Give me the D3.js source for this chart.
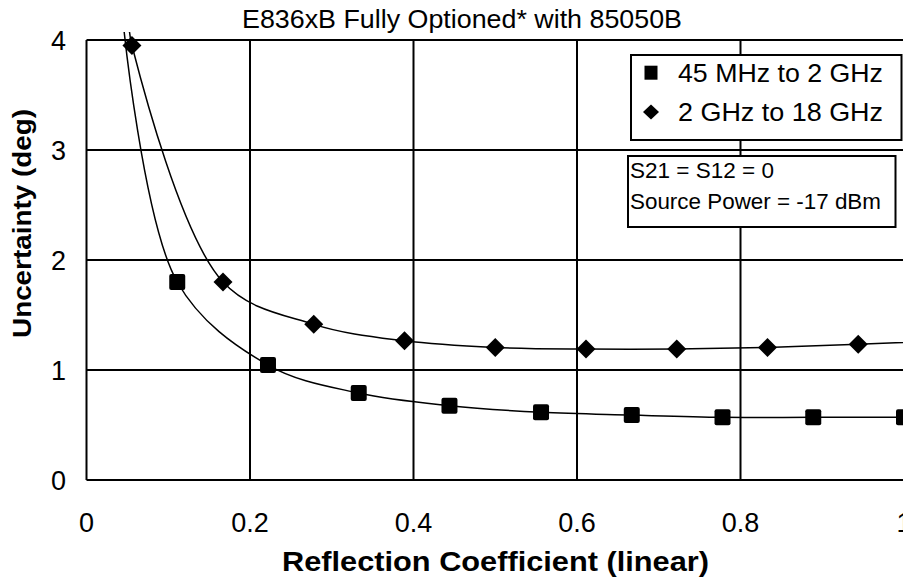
<!DOCTYPE html>
<html>
<head>
<meta charset="utf-8">
<script src="https://cdn.jsdelivr.net/npm/d3@7"></script>
<style>
  html, body { margin: 0; padding: 0; background: #fff; }
  svg { display: block; }
  text { font-family: "Liberation Sans", Arial, sans-serif; fill: #000; }
</style>
</head>
<body>
<svg id="chart" width="903" height="581"></svg>
<script>
// ---- data ----
const chartTitle = "E836xB Fully Optioned* with 85050B";
const xTitle = "Reflection Coefficient (linear)";
const yTitle = "Uncertainty (deg)";
const xTicks = [0, 0.2, 0.4, 0.6, 0.8, 1];
const yTicks = [0, 1, 2, 3, 4];
const seriesNames = ["45 MHz to 2 GHz", "2 GHz to 18 GHz"];
const noteLines = ["S21 = S12 = 0", "Source Power = -17 dBm"];

// 45 MHz to 2 GHz (squares); first point lies above the axis maximum
const squareX = [0.045, 0.111, 0.222, 0.333, 0.444, 0.556, 0.667, 0.778, 0.889, 1.0];
const squareY = [4.15, 1.80, 1.045, 0.79, 0.675, 0.615, 0.59, 0.57, 0.57, 0.57];
// 2 GHz to 18 GHz (diamonds); first and last points lie outside the axis range
const diamondX = [0.052, 0.0556, 0.167, 0.278, 0.389, 0.5, 0.611, 0.722, 0.833, 0.944, 1.056];
const diamondY = [4.15, 3.95, 1.80, 1.415, 1.265, 1.205, 1.19, 1.19, 1.205, 1.235, 1.265];

(function () {
// ---- layout ----
const svg = d3.select("#chart");
const pLeft = 86.5, pRight = 904, pTop = 40, pBottom = 480;
const x = d3.scaleLinear().domain([0, 1]).range([pLeft, pRight]);
const y = d3.scaleLinear().domain([0, 4]).range([pBottom, pTop]);

// gridlines and frame
const grid = svg.append("g").attr("stroke", "#000").attr("stroke-width", 2);
grid.selectAll("line.v").data(xTicks).enter().append("line")
  .attr("x1", d => x(d)).attr("x2", d => x(d))
  .attr("y1", pTop).attr("y2", pBottom);
grid.selectAll("line.h").data(yTicks).enter().append("line")
  .attr("x1", pLeft).attr("x2", pRight)
  .attr("y1", d => y(d)).attr("y2", d => y(d));

// tick labels
svg.append("g").selectAll("text").data(xTicks).enter().append("text")
  .attr("x", d => x(d)).attr("y", 532)
  .attr("text-anchor", "middle").attr("font-size", 27)
  .text(d => d3.format("~g")(d));
svg.append("g").selectAll("text").data(yTicks).enter().append("text")
  .attr("x", 66).attr("y", d => y(d) + 10)
  .attr("text-anchor", "end").attr("font-size", 27)
  .text(d => d);

// titles
svg.append("text").attr("x", 462).attr("y", 28)
  .attr("text-anchor", "middle").attr("font-size", 25)
  .attr("textLength", 440).attr("lengthAdjust", "spacingAndGlyphs")
  .text(chartTitle);
svg.append("text").attr("x", 495.5).attr("y", 571)
  .attr("text-anchor", "middle").attr("font-size", 28).attr("font-weight", "bold")
  .attr("textLength", 427).attr("lengthAdjust", "spacingAndGlyphs")
  .text(xTitle);
svg.append("text").attr("transform", "translate(31,223.5) rotate(-90)")
  .attr("text-anchor", "middle").attr("font-size", 26).attr("font-weight", "bold")
  .attr("textLength", 229).attr("lengthAdjust", "spacingAndGlyphs")
  .text(yTitle);

// clip for series
svg.append("clipPath").attr("id", "plotclip").append("rect")
  .attr("x", pLeft).attr("y", pTop - 8).attr("width", pRight - pLeft).attr("height", pBottom - pTop + 8);

const line = d3.line().x(d => x(d[0])).y(d => y(d[1])).curve(d3.curveCatmullRom.alpha(0.5));
const sq = d3.zip(squareX, squareY);
const di = d3.zip(diamondX, diamondY);

const series = svg.append("g").attr("clip-path", "url(#plotclip)");
series.append("path").datum(sq).attr("d", line)
  .attr("fill", "none").attr("stroke", "#000").attr("stroke-width", 1.5);
series.append("path").datum(di).attr("d", line)
  .attr("fill", "none").attr("stroke", "#000").attr("stroke-width", 1.5);

const diamondPath = (w, h) => `M0,${-h/2}L${w/2},0L0,${h/2}L${-w/2},0Z`;
const inRange = d => d[1] <= 4 && d[0] <= 1;

svg.append("g").selectAll("rect").data(sq.filter(inRange)).enter().append("rect")
  .attr("x", d => x(d[0]) - 8).attr("y", d => y(d[1]) - 8)
  .attr("width", 16).attr("height", 16).attr("rx", 2).attr("fill", "#000");
svg.append("g").selectAll("path").data(di.filter(inRange)).enter().append("path")
  .attr("transform", d => `translate(${x(d[0])},${y(d[1])})`)
  .attr("d", diamondPath(19, 19)).attr("fill", "#000");

// legend
const lg = svg.append("g");
lg.append("rect").attr("x", 631).attr("y", 55).attr("width", 270.5).attr("height", 85)
  .attr("fill", "#fff").attr("stroke", "#000").attr("stroke-width", 2);
lg.append("rect").attr("x", 651 - 6.5).attr("y", 72.7 - 7).attr("width", 13).attr("height", 14).attr("fill", "#000");
lg.append("path").attr("transform", "translate(651,112)").attr("d", diamondPath(16, 15)).attr("fill", "#000");
lg.selectAll("text").data(seriesNames).enter().append("text")
  .attr("x", 678).attr("y", (d, i) => 82 + i * 39)
  .attr("font-size", 25)
  .attr("textLength", 205).attr("lengthAdjust", "spacingAndGlyphs")
  .text(d => d);

// note box
const nb = svg.append("g");
nb.append("rect").attr("x", 628).attr("y", 156).attr("width", 267.5).attr("height", 71)
  .attr("fill", "#fff").attr("stroke", "#000").attr("stroke-width", 2);
const noteWidths = [144, 251];
nb.selectAll("text").data(noteLines).enter().append("text")
  .attr("x", 630).attr("y", (d, i) => 178 + i * 31)
  .attr("font-size", 22)
  .attr("textLength", (d, i) => noteWidths[i]).attr("lengthAdjust", "spacingAndGlyphs")
  .text(d => d);
})();
</script>
</body>
</html>
